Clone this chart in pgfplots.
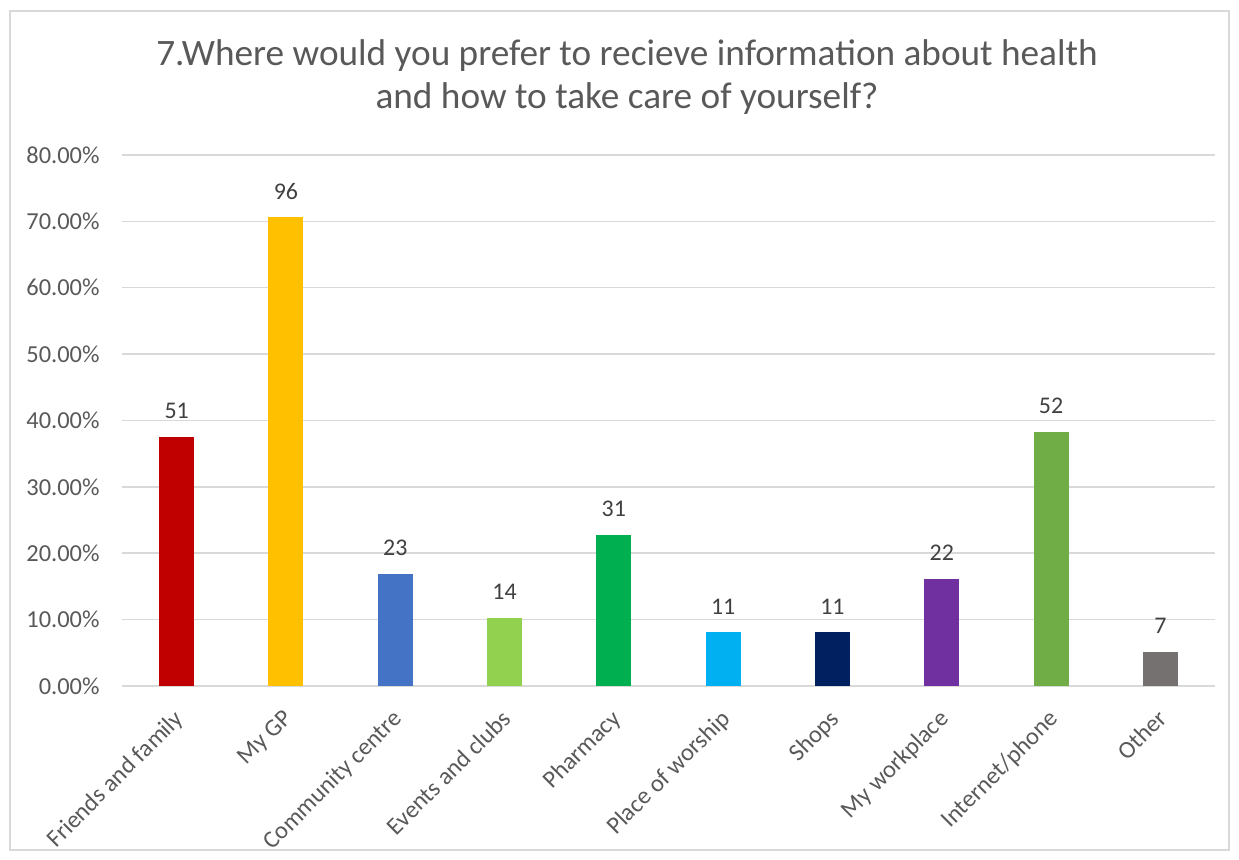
\documentclass[border=0pt]{standalone}
\usepackage{fontspec}
\setmainfont{Carlito}
\usepackage{pgfplots}
\pgfplotsset{compat=1.18}
\definecolor{txt}{HTML}{595959}
\definecolor{lbl}{HTML}{404040}
\definecolor{gridc}{HTML}{D9D9D9}
\definecolor{c1}{HTML}{C00000}
\definecolor{c2}{HTML}{FFC000}
\definecolor{c3}{HTML}{4472C4}
\definecolor{c4}{HTML}{92D050}
\definecolor{c5}{HTML}{00B050}
\definecolor{c6}{HTML}{00B0F0}
\definecolor{c7}{HTML}{002060}
\definecolor{c8}{HTML}{7030A0}
\definecolor{c9}{HTML}{70AD47}
\definecolor{c10}{HTML}{767171}
\begin{document}
\begin{tikzpicture}[x=1bp,y=1bp]
\path[use as bounding box] (0,0) rectangle (1239,860);
\draw[gridc, line width=1.5bp] (10,10) rectangle (1229,849);
\node[align=center, text=txt, font=\fontsize{37.4}{44}\selectfont] at (627,783)
  {7.Where would you prefer to recieve information about health\\and how to take care of yourself?};
\begin{axis}[
  at={(122bp,174bp)}, anchor=south west,
  scale only axis, width=1093bp, height=531bp,
  xmin=-0.5, xmax=9.5, ymin=0, ymax=80,
  ytick={0,10,...,80},
  yticklabel={\pgfmathprintnumber[fixed,fixed zerofill,precision=2]{\tick}\%},
  xtick={0,...,9},
  xticklabels={Friends and family,My GP,Community centre,Events and clubs,Pharmacy,Place of worship,Shops,My workplace,Internet/phone,Other},
  /pgf/number format/assume math mode=true,
  tick label style={font=\fontsize{24.5}{29}\selectfont, text=txt},
  x tick label style={xshift=-4bp, yshift=-22bp, rotate=45, anchor=north east, inner sep=0pt},
  y tick label style={xshift=-19bp},
  major tick length=0pt,
  axis line style={draw=none},
  ymajorgrids, major grid style={gridc, line width=1.5bp},
  ybar, bar width=35bp, bar shift=0pt,
  point meta=explicit symbolic,
  nodes near coords,
  nodes near coords style={font=\fontsize{24}{29}\selectfont, text=lbl, anchor=south, inner sep=0pt, yshift=18bp},
  every axis plot/.append style={draw=none},
]
\addplot[fill=c1] coordinates {(0,37.50) [51]};
\addplot[fill=c2] coordinates {(1,70.59) [96]};
\addplot[fill=c3] coordinates {(2,16.91) [23]};
\addplot[fill=c4] coordinates {(3,10.29) [14]};
\addplot[fill=c5] coordinates {(4,22.79) [31]};
\addplot[fill=c6] coordinates {(5,8.09) [11]};
\addplot[fill=c7] coordinates {(6,8.09) [11]};
\addplot[fill=c8] coordinates {(7,16.18) [22]};
\addplot[fill=c9] coordinates {(8,38.24) [52]};
\addplot[fill=c10] coordinates {(9,5.15) [7]};
\end{axis}
\end{tikzpicture}
\end{document}
